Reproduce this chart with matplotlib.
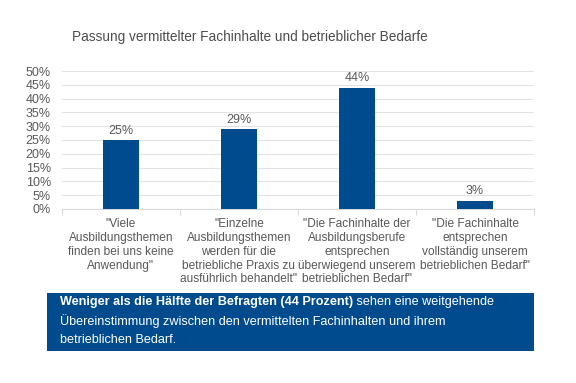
import matplotlib.pyplot as plt
from matplotlib.patches import Rectangle
from matplotlib.ticker import MultipleLocator, FuncFormatter

# data
categories = [
    '"Viele\nAusbildungsthemen\nfinden bei uns keine\nAnwendung"',
    '"Einzelne\nAusbildungsthemen\nwerden für die\nbetriebliche Praxis zu\nausführlich behandelt"',
    '"Die Fachinhalte der\nAusbildungsberufe\nentsprechen\nüberwiegend unserem\nbetrieblichen Bedarf"',
    '"Die Fachinhalte\nentsprechen\nvollständig unserem\nbetrieblichen Bedarf"',
]
values = [25, 29, 44, 3]
title = 'Passung vermittelter Fachinhalte und betrieblicher Bedarfe'
note_bold = 'Weniger als die Hälfte der Befragten (44 Prozent)'
note_rest = ' sehen eine weitgehende'
note_lines = ['Übereinstimmung zwischen den vermittelten Fachinhalten und ihrem',
              'betrieblichen Bedarf.']

blue = '#004b8d'
grey_txt = '#595959'
plt.rcParams['font.family'] = ['Liberation Sans', 'DejaVu Sans']

fig = plt.figure(figsize=(5.76, 3.83), dpi=100)
W, H = 576, 383
# axes in pixel coords: x 62..534, y 71..209 (from top)
ax = fig.add_axes([62 / W, 1 - 209 / H, (534 - 62) / W, (209 - 71) / H])

x = range(len(values))
ax.bar(x, values, width=0.31, color=blue, zorder=3)
for i, v in enumerate(values):
    ax.text(i, v + 1.2, f'{v}%', ha='center', va='bottom', fontsize=9, color=grey_txt)

ax.set_ylim(0, 50)
ax.set_xlim(-0.5, len(values) - 0.5)
ax.yaxis.set_major_locator(MultipleLocator(5))
ax.yaxis.set_major_formatter(FuncFormatter(lambda v, p: f'{int(v)}%'))
ax.grid(axis='y', color='#e3e3e3', linewidth=0.8, zorder=0)
for s in ['top', 'right', 'left']:
    ax.spines[s].set_visible(False)
ax.spines['bottom'].set_color('#d9d9d9')
ax.tick_params(axis='y', length=0, labelsize=9, labelcolor=grey_txt, pad=8)

# category labels and separator ticks
ax.set_xticks([i - 0.5 for i in range(len(values) + 1)], minor=False)
ax.set_xticklabels([])
ax.tick_params(axis='x', length=4, color='#d9d9d9', direction='out')
for i, c in enumerate(categories):
    ax.text(i, -3.3, c, ha='center', va='top', fontsize=8.6, color=grey_txt,
            linespacing=1.2)

fig.text(250 / W, 1 - 37 / H, title, ha='center', va='center', fontsize=9.8,
         color='#4d4d4d')

# note box
fig.patches.append(Rectangle((47 / W, 1 - 351 / H), (534 - 47) / W, (351 - 293) / H,
                             transform=fig.transFigure, facecolor=blue,
                             edgecolor='none'))
t = fig.text(60 / W, 1 - 302 / H, note_bold, ha='left', va='center', fontsize=9.1,
             color='white', fontweight='bold')
fig.canvas.draw()
bb = t.get_window_extent()
fig.text(bb.x1 / W, 1 - 302 / H, note_rest, ha='left', va='center', fontsize=9.1,
         color='white')
for j, line in enumerate(note_lines):
    fig.text(60 / W, 1 - (321 + 19 * j) / H, line, ha='left', va='center',
             fontsize=9.1, color='white')

fig.savefig('out.png', dpi=100)
